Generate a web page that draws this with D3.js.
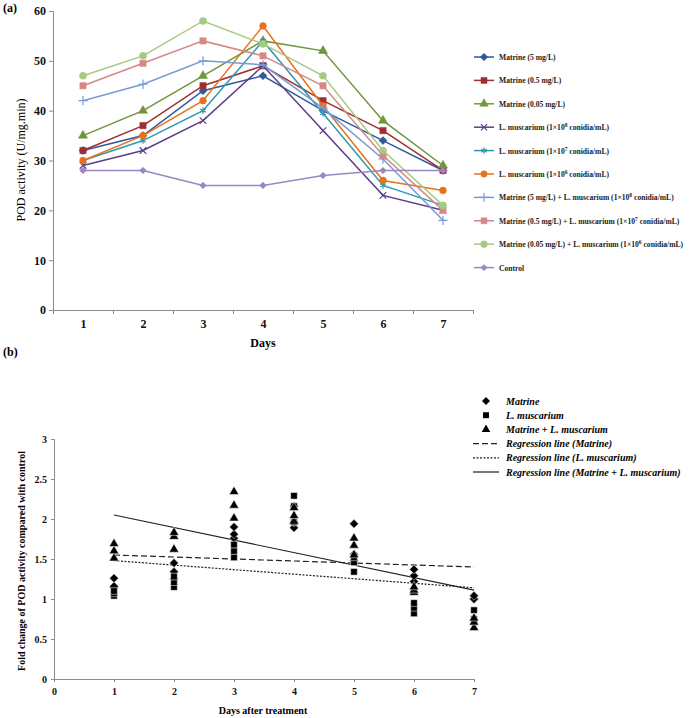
<!DOCTYPE html>
<html>
<head>
<meta charset="utf-8">
<script src="https://cdn.jsdelivr.net/npm/d3@7"></script>
<style>
  body { margin: 0; background: #fff; }
  svg { display: block; font-family: "Liberation Serif", "Times New Roman", serif; }
</style>
</head>
<body>
<div id="chartArea"></div>
<script>
// data (a) - POD activity, U/mg.min
const days = [1, 2, 3, 4, 5, 6, 7];
const matrine5 = [32, 35, 44, 47, 40, 34, 28];
const matrine05 = [32, 37, 45, 49, 42, 36, 28];
const matrine005 = [35, 40, 47, 54, 52, 38, 29];
const lm8 = [29, 32, 38, 49, 36, 23, 20];
const lm7 = [30, 34, 40, 54, 39.5, 25, 21];
const lm6 = [30, 35, 42, 57, 41, 26, 24];
const combo5_8 = [42, 45.3, 50, 49.2, 40.5, 30.3, 18];
const combo05_7 = [45, 49.5, 54, 51, 45, 31, 20];
const combo005_6 = [47, 51, 58, 53.4, 47, 32, 21];
const control = [28, 28, 25, 25, 27, 28, 28];
const yTicksA = [0, 10, 20, 30, 40, 50, 60];

// data (b) - fold change vs control, three points per day per group
const foldMatrine = [
  [1.14, 1.16, 1.26], [1.25, 1.34, 1.45], [1.76, 1.81, 1.9], [1.89, 1.96, 2.16],
  [1.48, 1.56, 1.94], [1.22, 1.29, 1.37], [1.0, 1.0, 1.04]
];
const foldLm = [
  [1.04, 1.07, 1.1], [1.15, 1.21, 1.28], [1.52, 1.6, 1.68], [1.96, 2.16, 2.29],
  [1.34, 1.46, 1.52], [0.82, 0.89, 0.95], [0.71, 0.75, 0.86]
];
const foldCombo = [
  [1.51, 1.6, 1.69], [1.62, 1.78, 1.83], [2.01, 2.17, 2.34], [1.97, 2.04, 2.14],
  [1.55, 1.67, 1.76], [1.08, 1.11, 1.15], [0.64, 0.71, 0.76]
];
// regression lines: value at day 1 and day 7
const regMatrine = [1.55, 1.4];
const regLm = [1.48, 1.14];
const regCombo = [2.05, 1.11];
const yTicksB = [0, 0.5, 1, 1.5, 2, 2.5, 3];
const xTicksB = [0, 1, 2, 3, 4, 5, 6, 7];

const W = 697, H = 718;
const axisColor = "#8c8c8c";

var svg = d3.select("#chartArea").append("svg")
    .attr("width", W)
    .attr("height", H);

// symbol helpers
const symX = d3.symbolX || d3.symbolTimes;
const symPlus = d3.symbolPlus || d3.symbolCross;
const symAst = d3.symbolAsterisk || d3.symbolCross;
// square-ish diamond like the spreadsheet marker
const symDiamond = {
  draw: function (context, size) {
    var r = Math.sqrt(size / 2);
    context.moveTo(0, -r);
    context.lineTo(r, 0);
    context.lineTo(0, r);
    context.lineTo(-r, 0);
    context.closePath();
  }
};

const seriesA = [
  { name: "Matrine (5 mg/L)", values: matrine5, color: "#2d5a9e", sym: symDiamond, size: 32, fill: true },
  { name: "Matrine (0.5 mg/L)", values: matrine05, color: "#9e2f30", sym: d3.symbolSquare, size: 40, fill: true },
  { name: "Matrine (0.05 mg/L)", values: matrine005, color: "#6f963a", sym: d3.symbolTriangle, size: 36, fill: true },
  { name: "L. muscarium (1×10", sup: "8", tail: " conidia/mL)", values: lm8, color: "#5c3e88", sym: symX, size: 30, fill: false },
  { name: "L. muscarium (1×10", sup: "7", tail: " conidia/mL)", values: lm7, color: "#2f98ae", sym: symAst, size: 30, fill: false },
  { name: "L. muscarium (1×10", sup: "6", tail: " conidia/mL)", values: lm6, color: "#e8721c", sym: d3.symbolCircle, size: 36, fill: true },
  { name: "Matrine (5 mg/L) + L. muscarium (1×10", sup: "8", tail: " conidia/mL)", values: combo5_8, color: "#789bd2", sym: symPlus, size: 30, fill: false },
  { name: "Matrine (0.5 mg/L) + L. muscarium (1×10", sup: "7", tail: " conidia/mL)", values: combo05_7, color: "#d68787", sym: d3.symbolSquare, size: 40, fill: true },
  { name: "Matrine (0.05 mg/L) + L. muscarium (1×10", sup: "6", tail: " conidia/mL)", values: combo005_6, color: "#a6ca82", sym: d3.symbolCircle, size: 40, fill: true },
  { name: "Control", values: control, color: "#9a86c2", sym: symDiamond, size: 22, fill: true }
];

// ---------- panel (a) ----------
var xA = d3.scaleLinear().domain([0.5, 7.5]).range([53, 473]);
var yA = d3.scaleLinear().domain([0, 60]).range([310, 11]);

svg.append("text").attr("x", 3).attr("y", 12)
    .style("font-size", "12px").style("font-weight", "bold").text("(a)");

var gA = svg.append("g");

// y axis
var yAxisA = d3.axisLeft(yA).tickValues(yTicksA).tickSize(4).tickPadding(3).tickFormat(d => d);
gA.append("g").attr("class", "y axis").attr("transform", "translate(53,0)").call(yAxisA)
    .call(g => g.selectAll("path, line").attr("stroke", axisColor))
    .call(g => g.selectAll("text").style("font-size", "12px").style("font-weight", "bold")
        .style("font-family", "Liberation Serif").attr("fill", "#111"));

// x axis: ticks between categories, labels at categories
var xTicksA = d3.range(0.5, 8, 1);
gA.append("g").attr("transform", "translate(0,310)")
    .call(d3.axisBottom(xA).tickValues(xTicksA).tickSize(4).tickFormat(""))
    .call(g => g.selectAll("path, line").attr("stroke", axisColor));
gA.append("g").attr("transform", "translate(0,310)")
    .call(d3.axisBottom(xA).tickValues(days).tickSize(0).tickPadding(9).tickFormat(d => d))
    .call(g => g.select("path").remove())
    .call(g => g.selectAll("text").style("font-size", "12px").style("font-weight", "bold")
        .style("font-family", "Liberation Serif").attr("fill", "#111"));

gA.append("text").attr("x", 263).attr("y", 347).attr("text-anchor", "middle")
    .style("font-size", "12px").style("font-weight", "bold").text("Days");

gA.append("text").attr("transform", "translate(25,160) rotate(-90)").attr("text-anchor", "middle")
    .style("font-size", "12px").text("POD activity (U/mg.min)");

var lineA = d3.line().x((d, i) => xA(days[i])).y(d => yA(d));

function markerStyle(sel, s) {
  sel.attr("fill", s.fill ? s.color : "none")
     .attr("stroke", s.color)
     .attr("stroke-width", s.fill ? 0.5 : 1.2);
}

seriesA.forEach(function (s) {
  gA.append("path").datum(s.values)
      .attr("d", lineA)
      .attr("fill", "none")
      .attr("stroke", s.color)
      .attr("stroke-width", 1.5);
  gA.selectAll(null).data(s.values).enter().append("path")
      .attr("transform", (d, i) => "translate(" + xA(days[i]) + "," + yA(d) + ")")
      .attr("d", d3.symbol().type(s.sym).size(s.size))
      .call(markerStyle, s);
});

// legend (a)
var legA = svg.append("g");
seriesA.forEach(function (s, i) {
  var y = 57 + i * 23.4;
  legA.append("line").attr("x1", 474).attr("x2", 494).attr("y1", y).attr("y2", y)
      .attr("stroke", s.color).attr("stroke-width", 1.5);
  legA.append("path").attr("transform", "translate(484," + y + ")")
      .attr("d", d3.symbol().type(s.sym).size(s.size * 0.9))
      .call(markerStyle, s);
  var t = legA.append("text").attr("x", 499).attr("y", y + 3)
      .style("font-size", "7.6px").style("font-weight", "bold").attr("fill", "#222");
  t.append("tspan").text(s.name);
  if (s.sup) {
    t.append("tspan").attr("dy", -3).style("font-size", "5.5px").text(s.sup);
    t.append("tspan").attr("dy", 3).text(s.tail);
  }
});

// ---------- panel (b) ----------
var xB = d3.scaleLinear().domain([0, 7]).range([54, 474]);
var yB = d3.scaleLinear().domain([0, 3]).range([679, 439]);

svg.append("text").attr("x", 3).attr("y", 356)
    .style("font-size", "12px").style("font-weight", "bold").text("(b)");

var gB = svg.append("g");

gB.append("g").attr("transform", "translate(54,0)")
    .call(d3.axisLeft(yB).tickValues(yTicksB).tickSize(3).tickPadding(4).tickFormat(d => d))
    .call(g => g.selectAll("path, line").attr("stroke", axisColor))
    .call(g => g.selectAll("text").style("font-size", "10px").style("font-weight", "bold")
        .style("font-family", "Liberation Serif").attr("fill", "#111"));

gB.append("g").attr("transform", "translate(0,679)")
    .call(d3.axisBottom(xB).tickValues(xTicksB).tickSize(3).tickPadding(6).tickFormat(d => d))
    .call(g => g.selectAll("path, line").attr("stroke", axisColor))
    .call(g => g.selectAll("text").style("font-size", "10px").style("font-weight", "bold")
        .style("font-family", "Liberation Serif").attr("fill", "#111"));

gB.append("text").attr("x", 263).attr("y", 714).attr("text-anchor", "middle")
    .style("font-size", "10px").style("font-weight", "bold").text("Days after treatment");

gB.append("text").attr("transform", "translate(25,561) rotate(-90)").attr("text-anchor", "middle")
    .style("font-size", "10px").style("font-weight", "bold")
    .text("Fold change of POD activity compared with control");

// regression lines
const regs = [
  { name: "Regression line (Matrine)", v: regMatrine, dash: "6,3" },
  { name: "Regression line (L. muscarium)", v: regLm, dash: "2,1.5" },
  { name: "Regression line (Matrine + L. muscarium)", v: regCombo, dash: null }
];
regs.forEach(function (r) {
  gB.append("line")
      .attr("x1", xB(1)).attr("y1", yB(r.v[0]))
      .attr("x2", xB(7)).attr("y2", yB(r.v[1]))
      .attr("stroke", "#222").attr("stroke-width", 1.2)
      .attr("stroke-dasharray", r.dash);
});

const groupsB = [
  { name: "Matrine", values: foldMatrine, sym: symDiamond, size: 40 },
  { name: "L. muscarium", values: foldLm, sym: d3.symbolSquare, size: 44 },
  { name: "Matrine + L. muscarium", values: foldCombo, sym: d3.symbolTriangle, size: 40 }
];
groupsB.forEach(function (g) {
  var pts = [];
  g.values.forEach((arr, i) => arr.forEach(v => pts.push([days[i], v])));
  gB.selectAll(null).data(pts).enter().append("path")
      .attr("transform", d => "translate(" + xB(d[0]) + "," + yB(d[1]) + ")")
      .attr("d", d3.symbol().type(g.sym).size(g.size))
      .attr("fill", "#000").attr("stroke", "#fff").attr("stroke-width", 0.5);
});

// legend (b)
var legB = svg.append("g");
groupsB.forEach(function (g, i) {
  var y = 401 + i * 14.2;
  legB.append("path").attr("transform", "translate(486," + y + ")")
      .attr("d", d3.symbol().type(g.sym).size(g.size * 0.8)).attr("fill", "#000");
  legB.append("text").attr("x", 506).attr("y", y + 3.5)
      .style("font-size", "10px").style("font-weight", "bold").style("font-style", "italic")
      .text(g.name);
});
regs.forEach(function (r, i) {
  var y = 401 + (i + 3) * 14.2;
  legB.append("line").attr("x1", 473).attr("x2", 499).attr("y1", y).attr("y2", y)
      .attr("stroke", "#222").attr("stroke-width", 1.2).attr("stroke-dasharray", r.dash);
  legB.append("text").attr("x", 506).attr("y", y + 3.5)
      .style("font-size", "10px").style("font-weight", "bold").style("font-style", "italic")
      .text(r.name);
});
</script>
</body>
</html>
